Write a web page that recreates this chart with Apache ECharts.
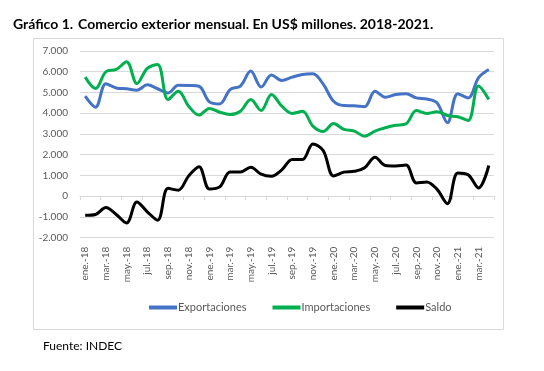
<!DOCTYPE html>
<html><head><meta charset="utf-8">
<script src="https://cdn.jsdelivr.net/npm/echarts@6/dist/echarts.min.js"></script>
<style>html,body{margin:0;padding:0;background:#fff}#c{width:544px;height:371px}</style>
</head><body><div id="c"></div>
<script>
const months = ['ene.-18','feb.-18','mar.-18','abr.-18','may.-18','jun.-18','jul.-18','ago.-18','sep.-18','oct.-18','nov.-18','dic.-18',
'ene.-19','feb.-19','mar.-19','abr.-19','may.-19','jun.-19','jul.-19','ago.-19','sep.-19','oct.-19','nov.-19','dic.-19',
'ene.-20','feb.-20','mar.-20','abr.-20','may.-20','jun.-20','jul.-20','ago.-20','sep.-20','oct.-20','nov.-20','dic.-20',
'ene.-21','feb.-21','mar.-21','abr.-21'];
const exportaciones = [4820,4290,5420,5220,5180,5110,5370,5180,4980,5350,5340,5300,
4550,4450,5140,5310,6030,5260,5840,5580,5740,5870,5900,5400,
4580,4370,4360,4310,5060,4770,4900,4940,4740,4690,4500,3540,
4940,4740,5710,6110];
const importaciones = [5740,5190,6000,6110,6480,5430,6160,6350,4660,5060,4340,3910,
4230,4050,3940,4100,4660,4130,4900,4340,3990,4100,3380,3120,
3500,3220,3140,2890,3140,3300,3420,3490,4130,3990,4070,3890,
3830,3650,5310,4660];
const saldo = [-920,-880,-550,-880,-1290,-280,-750,-1160,380,290,980,1420,
350,450,1170,1170,1400,1060,960,1270,1770,1770,2520,2200,
980,1160,1200,1370,1880,1480,1460,1500,640,690,330,-360,
1120,1030,400,1480];
const yTicks = {min:-2000, max:7000, interval:1000};

const chart = echarts.init(document.getElementById('c'), null, {renderer:'canvas'});
const fmt = v => { const s = Math.abs(v).toString().replace(/\B(?=(\d{3})+(?!\d))/g,'.'); return (v<0?'-':'')+s; };
const font = 'Lato, "Open Sans", sans-serif';
const mk = (name, data, color) => ({
  name, type:'line', data, smooth:0.35, symbol:'none', xAxisIndex:0,
  lineStyle:{color, width:3}, itemStyle:{color}
});
chart.setOption({
  animation:false,
  title:{
    left:8, top:10,
    text:'{b|Gráfico 1.} {n|Comercio exterior mensual. En US$ millones. 2018-2021.}',
    textStyle:{rich:{
      b:{fontWeight:'bold', fontSize:14, fontFamily:font, color:'#000'},
      n:{fontSize:14, fontFamily:font, color:'#000'}
    }}
  },
  graphic:[
    {type:'rect', shape:{x:33.5,y:38.5,width:470,height:291}, style:{fill:'none', stroke:'#d9d9d9', lineWidth:1}, z:-1},
    {type:'text', left:43, top:340, style:{text:'Fuente: INDEC', font:'12px '+font, fill:'#000'}}
  ],
  legend:{
    left:144, top:297, itemWidth:28, itemHeight:4, itemGap:26, icon:'rect',
    textStyle:{fontSize:11, fontFamily:font, color:'#595959', padding:[0,0,0,-4]},
    data:['Exportaciones','Importaciones','Saldo']
  },
  grid:{left:80, right:50, top:51, bottom:133.3, containLabel:false},
  xAxis:[{
    type:'category', data:months, boundaryGap:true, position:'bottom',
    axisLine:{show:false, onZero:false}, axisTick:{show:false},
    axisLabel:{interval:1, rotate:90, margin:9, fontSize:10, fontFamily:font, color:'#595959'}
  },{
    type:'category', data:months, boundaryGap:true, position:'bottom',
    axisLine:{show:true, onZero:true, lineStyle:{color:'#d9d9d9'}},
    axisTick:{show:true, interval:1, length:4, lineStyle:{color:'#d9d9d9'}},
    axisLabel:{show:false}
  }],
  yAxis:{
    type:'value', min:yTicks.min, max:yTicks.max, interval:yTicks.interval,
    axisLine:{show:false}, axisTick:{show:false},
    splitLine:{lineStyle:{color:'#d9d9d9'}},
    axisLabel:{formatter:fmt, fontSize:10, fontFamily:font, color:'#595959', margin:12}
  },
  series:[
    mk('Exportaciones', exportaciones, '#4472C4'),
    mk('Importaciones', importaciones, '#00B050'),
    mk('Saldo', saldo, '#000000')
  ]
});
</script></body></html>
